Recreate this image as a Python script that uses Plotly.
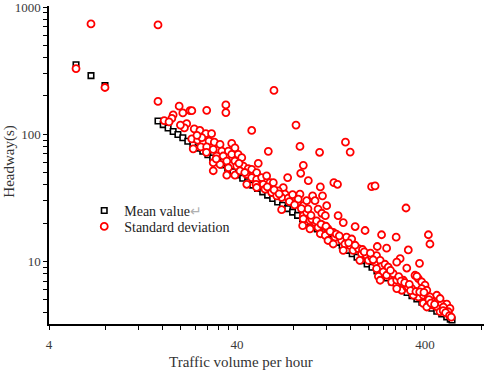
import math
import plotly.graph_objects as go

# ---- data ----
mean_volume = [5.57, 6.69, 7.94,
               15.2, 16.2, 17.2, 18.3, 19.4, 20.6, 21.9, 23.3, 24.8, 26.3, 28.0, 29.7, 31.6, 33.6, 35.7,
               38.0, 40.4, 42.9, 45.6, 48.5, 51.5, 54.8, 58.2, 61.9, 65.8, 69.9, 74.3, 79.0, 84.0, 89.3,
               94.9, 101, 107, 114, 121, 129, 137, 145, 154, 164, 174, 185, 197, 209, 222, 236, 251, 267,
               284, 302, 321, 341, 362, 385, 409, 435, 462, 491, 522, 545, 557]
mean_value = [352, 289, 241,
              127, 119, 112, 105, 99.5, 93.7, 88.1, 82.8, 77.8, 73.4, 68.9, 65.0, 61.1, 57.4, 54.1,
              50.8, 47.8, 45.0, 42.3, 39.8, 37.5, 35.2, 33.2, 31.2, 29.3, 27.6, 26.0, 24.4, 23.0, 21.6,
              20.3, 19.1, 18.0, 16.9, 15.9, 15.0, 14.1, 13.3, 12.2, 11.5, 10.8, 10.15, 9.55, 9.0, 8.4, 7.9,
              7.4, 6.9, 6.45, 6.05, 5.7, 5.37, 5.07, 4.78, 4.52, 4.28, 4.06, 3.86, 3.66, 3.52, 3.46]

sd_volume = [5.57, 6.69, 7.94, 15.2, 15.2,
             19.7, 20.6, 22.5, 23.0, 27.6, 34.9, 34.9, 62.9, 18.3, 18.0, 16.4, 21.6, 47.9, 58.7, 29.9,
             23.7, 25.4, 27.3, 29.3, 23.0, 24.7, 26.5, 28.4, 30.3, 23.4, 25.7, 27.6, 29.9, 32.5, 33.2,
             37.5, 39.0, 36.0, 31.2, 33.8, 37.5, 40.6, 42.4, 35.3, 39.0, 29.9, 32.5, 36.0, 39.9, 43.2,
             45.9, 35.3, 39.0, 41.5, 45.0, 47.9, 50.9, 51.9, 47.9, 50.9, 54.1, 57.5, 59.9, 62.4, 55.2,
             50.5, 90.1, 74.4, 70.5, 66.3, 61.2, 72.0, 78.2, 69.1, 65.1, 86.5, 84.7, 75.0, 69.1, 90.1,
             90.1, 151, 160, 110, 86.5, 82.4, 87.3, 95.8, 111, 131, 137, 208, 217, 101, 114, 104, 93.9,
             108, 113, 118, 90.1, 97.8, 104, 89.4, 97.8, 108, 115, 122, 111, 118, 130, 133, 122, 130,
             144, 153, 163, 150, 160, 147, 166, 177, 184, 196, 180, 200, 208, 221, 217, 231, 235, 221,
             240, 226, 231, 261, 277, 266, 283, 301, 320, 340, 307, 354, 369, 384, 400, 384, 409, 347,
             369, 392, 417, 434, 392, 417, 443, 471, 462, 491, 481,
             317, 235, 281, 223, 250, 326, 295, 283, 374, 320, 362, 417, 425,
             522, 543, 532, 501, 409, 462, 481, 250, 271, 283, 283, 326, 347, 425,
             147, 170, 192, 138, 45.1, 50.9, 56.4, 93.9, 95.4, 120,
             100, 106, 112, 119, 125, 135, 140, 157, 170, 186, 190, 205, 212, 245, 255, 262, 290, 298,
             312, 330, 335, 358, 375, 395, 420, 430, 450, 500, 515, 540, 552, 58, 63, 67, 76, 81, 88,
             99, 79, 44, 41, 31, 27.5, 26, 24.5, 21.0, 20.0, 17.4]
sd_value = [328, 736, 233, 723, 181,
            166, 147, 153, 153, 154, 170, 148, 221, 142, 133, 128, 121, 107, 73.3, 51.6,
            110, 107, 101, 101, 91.9, 89.8, 86.6, 88.2, 86.6, 76.8, 79.5, 79.5, 76.0, 83.1, 73.7,
            84.6, 78.0, 73.7, 67.4, 67.4, 69.4, 69.4, 65.4, 61.5, 61.5, 59.7, 57.9, 54.5, 56.2, 56.2,
            53.6, 47.6, 47.6, 51.4, 48.4, 53.0, 49.9, 59.0, 45.6, 44.2, 45.6, 47.0, 41.6, 41.6, 40.4,
            40.4, 56.9, 45.6, 38.0, 35.9, 34.8, 33.8, 31.8, 31.8, 32.8, 33.8, 30.9, 31.4, 25.5, 27.4,
            22.9, 86.6, 72.4, 72.1, 80.2, 118, 49.3, 43.1, 38.5, 41.6, 40.4, 38.7, 39.2, 32.8, 32.8, 30.0, 24.3,
            25.8, 23.9, 22.9, 21.6, 20.9, 20.3, 19.1, 18.0, 18.5, 19.1, 18.0, 16.5, 16.0, 16.9, 15.5, 14.6, 13.7,
            14.6, 15.5, 15.0, 13.7, 13.3, 12.2, 12.2, 12.6, 11.5, 11.1, 10.2, 10.2, 10.8, 11.1, 9.87, 10.2, 9.14, 8.77,
            8.26, 7.64, 7.11, 7.78, 7.54, 6.90, 6.50, 5.93, 6.28, 6.11, 7.11, 7.78, 7.33, 6.90, 6.50, 6.11, 5.93, 5.59,
            5.26, 5.42, 5.26, 4.96, 4.67, 4.53, 4.53, 4.96, 4.40, 4.67, 4.02,
            26.3, 16.2, 15.5, 13.1, 12.7, 12.3, 10.5, 9.87, 9.65, 8.87, 7.64, 16.2, 13.7,
            4.62, 4.27, 4.02, 4.38, 4.38, 5.42, 5.11, 7.78, 8.02, 7.11, 6.11, 6.28, 5.42, 5.26,
            20.2, 18.8, 17.5, 22.9, 40.4, 38.1, 37.0, 30.0, 25.9, 27.4,
            21.5, 20.8, 19.6, 18.9, 17.2, 16.4, 15.9, 14.0, 13.4, 12.4, 11.9, 11.6, 10.3, 9.5, 9.0, 8.5, 7.6, 7.0,
            6.8, 6.6, 5.9, 5.8, 5.75, 5.7, 5.0, 4.7, 4.6, 4.1, 3.95, 3.75, 3.65, 38.5, 36.5, 34.0, 29.5, 27.8, 26.0,
            23.0, 33.5, 50.0, 59, 64, 72, 94, 98, 112, 118, 125]

x_major_vals = [4, 40, 400]
x_major_text = ["4", "40", "400"]
x_minor_vals = [8, 12, 16, 20, 24, 28, 32, 36, 80, 120, 160, 200, 240, 280, 320, 360, 800]
y_major_vals = [10, 100, 1000]
y_major_text = ["10", "100", "1000"]
y_minor_vals = [4, 5, 6, 7, 8, 9, 20, 30, 40, 50, 60, 70, 80, 90, 200, 300, 400, 500, 600, 700, 800, 900]

SERIF = "Liberation Serif, Times New Roman, serif"

fig = go.Figure()
fig.add_trace(go.Scatter(
    x=mean_volume, y=mean_value, mode="markers",
    name="Mean value<span style='color:#b0b0b0'>↵</span>",
    legend="legend",
    marker=dict(symbol="square", size=5.5, color="white",
                line=dict(color="black", width=1.6)),
))
fig.add_trace(go.Scatter(
    x=sd_volume, y=sd_value, mode="markers",
    name="Standard deviation",
    legend="legend2",
    marker=dict(symbol="circle", size=7, color="white",
                line=dict(color="#ff0000", width=1.8)),
))

axis_common = dict(
    type="log", showgrid=False, zeroline=False,
    showline=True, linecolor="black", linewidth=1.5,
    ticks="outside", ticklen=4, tickwidth=1.3, tickcolor="black",
    tickfont=dict(family=SERIF, size=13, color="#3a3a3a"),
    tickmode="array", ticklabeloverflow="allow",
)

fig.update_xaxes(
    **axis_common,
    range=[math.log10(4), math.log10(824)],
    tickvals=x_major_vals + x_minor_vals,
    ticktext=x_major_text + [""] * len(x_minor_vals),
    ticklabelstandoff=4,
)
fig.update_yaxes(
    **axis_common,
    range=[math.log10(3.22), 3.008],
    tickvals=y_major_vals + y_minor_vals,
    ticktext=y_major_text + [""] * len(y_minor_vals),
)

fig.add_annotation(text="Traffic volume per hour", xref="paper", yref="paper",
                   x=0.441, y=-0.119, xanchor="center", yanchor="middle",
                   showarrow=False, font=dict(family=SERIF, size=15, color="#333333"))
fig.add_annotation(text="Headway(s)", xref="paper", yref="paper",
                   x=-0.09, y=0.51, xanchor="center", yanchor="middle", textangle=-90,
                   showarrow=False, font=dict(family=SERIF, size=15, color="#333333"))

legend_style = dict(xanchor="left", yanchor="top", bgcolor="rgba(0,0,0,0)", borderwidth=0,
                    font=dict(family=SERIF, size=14, color="#222222"), itemwidth=30)
fig.update_layout(
    width=484, height=374,
    margin=dict(l=49, r=0, t=4, b=50),
    paper_bgcolor="white", plot_bgcolor="white",
    showlegend=True,
    legend=dict(x=0.081, y=0.406, **legend_style),
    legend2=dict(x=0.081, y=0.356, **legend_style),
)

fig.write_html("out.html", config={"displayModeBar": False},
               post_script="document.body.style.margin='0';")
